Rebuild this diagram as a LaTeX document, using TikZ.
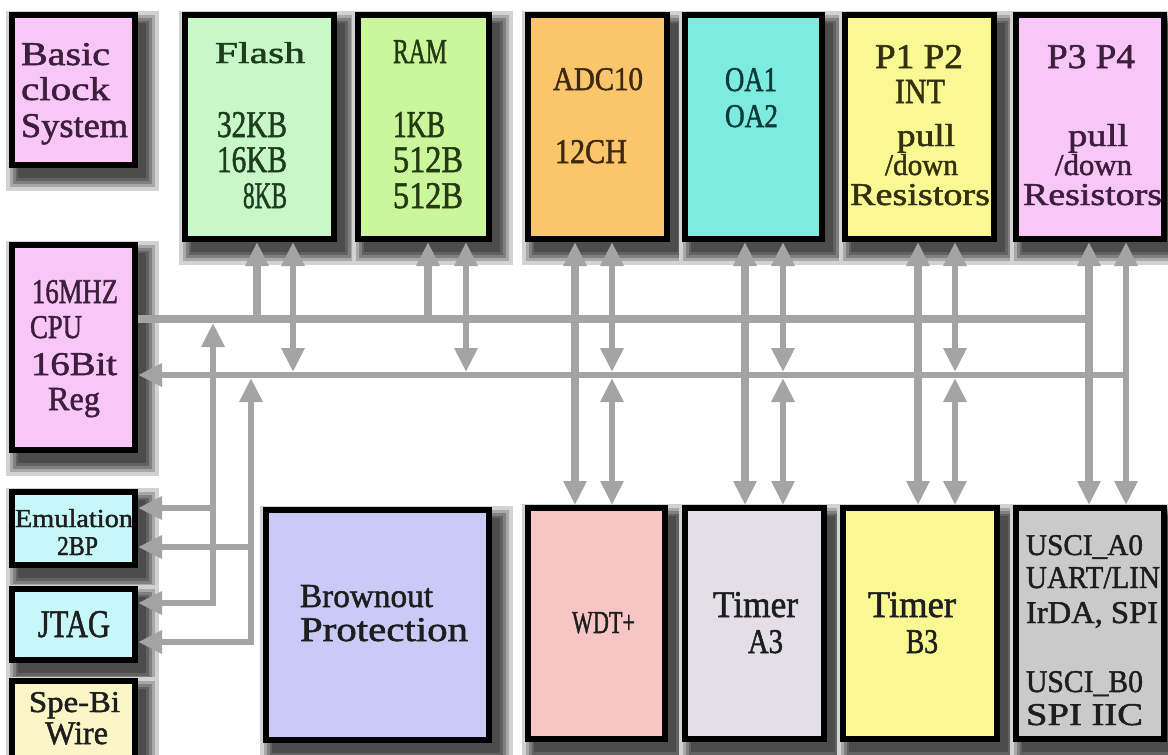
\documentclass[tikz,border=0pt]{standalone}
\usepackage{fontspec}
\setmainfont{Liberation Serif}[FakeBold=1.5]
\usepackage{graphicx}
\usetikzlibrary{arrows.meta}
\pgfdeclarelayer{back}
\pgfdeclarelayer{shad}
\pgfdeclarelayer{bg}
\pgfsetlayers{back,shad,bg,main}
\definecolor{busgray}{HTML}{A4A4A4}
\definecolor{fpink}{HTML}{F8C7F8}
\definecolor{fflash}{HTML}{C8F7C8}
\definecolor{fram}{HTML}{CBF69C}
\definecolor{fadc}{HTML}{FBC56B}
\definecolor{foa}{HTML}{7DEBE0}
\definecolor{fyel}{HTML}{F9F892}
\definecolor{fcyan}{HTML}{C8F7F9}
\definecolor{fcream}{HTML}{FBF6C8}
\definecolor{flav}{HTML}{CACAF6}
\definecolor{fwdt}{HTML}{F8C5C5}
\definecolor{fta}{HTML}{E2DFE7}
\definecolor{fgray}{HTML}{CACACA}
\definecolor{shA}{HTML}{D2D2D2}
\definecolor{shB}{HTML}{A8A8A8}
\definecolor{shC}{HTML}{808080}
\definecolor{shD}{HTML}{626262}
\definecolor{shE}{HTML}{4C4C4C}
\definecolor{txpink}{HTML}{3C1F3C}
\definecolor{txflash}{HTML}{1E3D1E}
\definecolor{txram}{HTML}{243A12}
\definecolor{txadc}{HTML}{3D2812}
\definecolor{txoa}{HTML}{0E3B37}
\definecolor{txyel}{HTML}{33300F}
\definecolor{txdark}{HTML}{1E1E1E}
\newcommand\lbltext[7]{\node[lbl,text=#7] (#1) at (#2,#3) {\resizebox{#4pt}{#5pt}{#6}};}
\newcommand\dropshadow[1]{%
  \path[fill=shA] ([xshift=-3pt,yshift=1pt]#1.north west) rectangle ([xshift=21pt,yshift=-23pt]#1.south east);
  \path[fill=shB] ([xshift=1pt,yshift=-3pt]#1.north west) rectangle ([xshift=17pt,yshift=-19pt]#1.south east);
  \path[fill=shC] ([xshift=4pt,yshift=-6pt]#1.north west) rectangle ([xshift=14pt,yshift=-16pt]#1.south east);
  \path[fill=shD] ([xshift=7pt,yshift=-9pt]#1.north west) rectangle ([xshift=11pt,yshift=-13pt]#1.south east);
  \path[fill=shE] ([xshift=9pt,yshift=-11pt]#1.north west) rectangle ([xshift=8pt,yshift=-10pt]#1.south east);
}
\tikzset{
  box/.style={draw=black, line width=6pt, rectangle, inner sep=0pt},
  lbl/.style={inner sep=0pt, outer sep=0pt, anchor=base west},
  busA/.style={draw=busgray, line width=8pt},
  busB/.style={draw=busgray, line width=6pt},
  >={Triangle[width=22pt,length=24pt]}
}
\begin{document}
\begin{tikzpicture}[x=1pt,y=-1pt]
\useasboundingbox (0,0) rectangle (1168,755);
\clip (0,0) rectangle (1168,755);
\begin{pgfonlayer}{back}
\fill[white] (0,0) rectangle (1168,755);
\end{pgfonlayer}

% boxes
\node[box,fill=fpink,minimum width=123pt,minimum height=150pt] (clk) at (73.5,90) {};
\node[box,fill=fflash,minimum width=149pt,minimum height=224pt] (flash) at (259.5,127) {};
\node[box,fill=fram,minimum width=131pt,minimum height=224pt] (ram) at (423.5,127) {};
\node[box,fill=fadc,minimum width=139pt,minimum height=224pt] (adc) at (597.5,127) {};
\node[box,fill=foa,minimum width=137pt,minimum height=224pt] (oa) at (753.5,127) {};
\node[box,fill=fyel,minimum width=149pt,minimum height=224pt] (p12) at (919.5,127) {};
\node[box,fill=fpink,minimum width=148pt,minimum height=224pt] (p34) at (1090,127) {};
\node[box,fill=fpink,minimum width=123pt,minimum height=205pt] (cpu) at (73.5,347.5) {};
\node[box,fill=fcyan,minimum width=123pt,minimum height=73pt] (emu) at (73.5,528.5) {};
\node[box,fill=fcyan,minimum width=123pt,minimum height=71pt] (jtag) at (73.5,624.5) {};
\node[box,fill=fcream,minimum width=123pt,minimum height=106pt] (spe) at (73.5,734) {};
\node[box,fill=flav,minimum width=223pt,minimum height=230pt] (bo) at (377.5,625) {};
\node[box,fill=fwdt,minimum width=137pt,minimum height=231pt] (wdt) at (596.5,623.5) {};
\node[box,fill=fta,minimum width=139pt,minimum height=231pt] (ta) at (754.5,623.5) {};
\node[box,fill=fyel,minimum width=154pt,minimum height=231pt] (tb) at (920,623.5) {};
\node[box,fill=fgray,minimum width=148pt,minimum height=231pt] (usci) at (1090,623.5) {};

% drop shadows
\begin{pgfonlayer}{shad}
\dropshadow{clk}\dropshadow{flash}\dropshadow{ram}\dropshadow{adc}
\dropshadow{oa}\dropshadow{p12}\dropshadow{p34}\dropshadow{cpu}
\dropshadow{emu}\dropshadow{jtag}\dropshadow{spe}\dropshadow{bo}
\dropshadow{wdt}\dropshadow{ta}\dropshadow{tb}\dropshadow{usci}
\end{pgfonlayer}

% bus reference coordinates
\coordinate (ubR) at (1089,319);
\coordinate (ubB) at (0,323);
\coordinate (lbR) at (1126,375);
\coordinate (lbT) at (0,372);
\coordinate (lbB) at (0,378);
\coordinate (ja) at (213,603);
\coordinate (jb) at (213,508);
\coordinate (jc) at (251,642);
\coordinate (jd) at (251,547);

\begin{pgfonlayer}{bg}
\draw[busA] (cpu.east |- ubR) -- (ubR);
\draw[busB,->] (lbR) -- (cpu.east |- lbR);
% Flash
\draw[busA,<-] (257,0 |- flash.south) -- (257,0 |- ubR);
\draw[busB,<->] (293,0 |- flash.south) -- (293,0 |- lbT);
% RAM
\draw[busA,<-] (428,0 |- ram.south) -- (428,0 |- ubR);
\draw[busB,<->] (466,0 |- ram.south) -- (466,0 |- lbT);
% ADC / WDT
\draw[busA,<->] (575,0 |- adc.south) -- (575,0 |- wdt.north);
\draw[busB,<->] (612,0 |- adc.south) -- (612,0 |- lbT);
\draw[busB,<->] (612,0 |- lbB) -- (612,0 |- wdt.north);
% OA / Timer A3
\draw[busA,<->] (745,0 |- oa.south) -- (745,0 |- ta.north);
\draw[busB,<->] (783,0 |- oa.south) -- (783,0 |- lbT);
\draw[busB,<->] (783,0 |- lbB) -- (783,0 |- ta.north);
% P1P2 / Timer B3
\draw[busA,<->] (918,0 |- p12.south) -- (918,0 |- tb.north);
\draw[busB,<->] (955,0 |- p12.south) -- (955,0 |- lbT);
\draw[busB,<->] (955,0 |- lbB) -- (955,0 |- tb.north);
% P3P4 / USCI
\draw[busA,<->] (1089,0 |- p34.south) -- (1089,0 |- usci.north);
\draw[busB,<->] (1126,0 |- p34.south) -- (1126,0 |- usci.north);
% Emulation / JTAG
\draw[busB,<->] (213,0 |- ubB) -- (ja) -- (jtag.east |- ja);
\draw[busB,->] (jb) -- (emu.east |- jb);
\draw[busB,<->] (251,0 |- lbB) -- (jc) -- (jtag.east |- jc);
\draw[busB,->] (jd) -- (emu.east |- jd);
\end{pgfonlayer}

% texts
\lbltext{t1}{21}{65}{89}{22}{Basic}{txpink}
\lbltext{t2}{21}{100}{89}{23}{clock}{txpink}
\lbltext{t3}{21}{137}{107}{23}{System}{txpink}

\lbltext{t4}{215}{63}{90}{21}{Flash}{txflash}
\lbltext{t5}{217}{137}{70}{25}{32KB}{txflash}
\lbltext{t6}{217}{172}{70}{25}{16KB}{txflash}
\lbltext{t7}{243}{208}{44}{25}{8KB}{txflash}

\lbltext{t8}{393}{63}{54}{23}{RAM}{txram}
\lbltext{t9}{393}{137}{52}{25}{1KB}{txram}
\lbltext{t10}{393}{172}{70}{25}{512B}{txram}
\lbltext{t11}{393}{208}{70}{25}{512B}{txram}

\lbltext{t12}{553}{90}{90}{22}{ADC10}{txadc}
\lbltext{t13}{555}{163}{72}{23}{12CH}{txadc}

\lbltext{t14}{725}{91}{52}{23}{OA1}{txoa}
\lbltext{t15}{725}{127}{53}{22}{OA2}{txoa}

\lbltext{t16}{875}{68}{88}{23}{P1 P2}{txyel}
\lbltext{t17}{895}{103}{50}{23}{INT}{txyel}
\lbltext{t18}{897}{146}{58}{22}{pull}{txyel}
\lbltext{t19}{885}{175}{73}{21}{/down}{txyel}
\lbltext{t20}{850}{205}{140}{21}{Resistors}{txyel}

\lbltext{t21}{1047}{68}{88}{23}{P3 P4}{txpink}
\lbltext{t22}{1068}{146}{60}{22}{pull}{txpink}
\lbltext{t23}{1055}{175}{77}{21}{/down}{txpink}
\lbltext{t24}{1023}{205}{139}{21}{Resistors}{txpink}

\lbltext{t25}{32}{303}{86}{23}{16MHZ}{txpink}
\lbltext{t26}{30}{338}{52}{22}{CPU}{txpink}
\lbltext{t27}{31}{375}{86}{22}{16Bit}{txpink}
\lbltext{t28}{48}{410}{52}{22}{Reg}{txpink}

\lbltext{t29}{15}{527}{118}{18}{Emulation}{txdark}
\lbltext{t30}{57}{555}{41}{18}{2BP}{txdark}
\lbltext{t31}{38}{637}{72}{26}{JTAG}{txdark}
\lbltext{t32}{29}{712}{91}{20}{Spe-Bi}{txdark}
\lbltext{t33}{45}{744}{63}{22}{Wire}{txdark}

\lbltext{t34}{300}{607}{133}{22}{Brownout}{txdark}
\lbltext{t35}{300}{641}{168}{23}{Protection}{txdark}

\lbltext{t36}{572}{633}{63}{21}{WDT+}{txdark}
\lbltext{t37}{713}{617}{85}{25}{Timer}{txdark}
\lbltext{t38}{748}{653}{35}{23}{A3}{txdark}
\lbltext{t39}{868}{617}{88}{25}{Timer}{txdark}
\lbltext{t40}{906}{653}{32}{23}{B3}{txdark}

\lbltext{t41}{1026}{555}{117}{20}{USCI\_A0}{txdark}
\lbltext{t42}{1026}{588}{134}{21}{UART/LIN}{txdark}
\lbltext{t43}{1026}{623}{132}{21}{IrDA, SPI}{txdark}
\lbltext{t44}{1026}{692}{117}{21}{USCI\_B0}{txdark}
\lbltext{t45}{1026}{725}{117}{21}{SPI IIC}{txdark}
\end{tikzpicture}
\end{document}
